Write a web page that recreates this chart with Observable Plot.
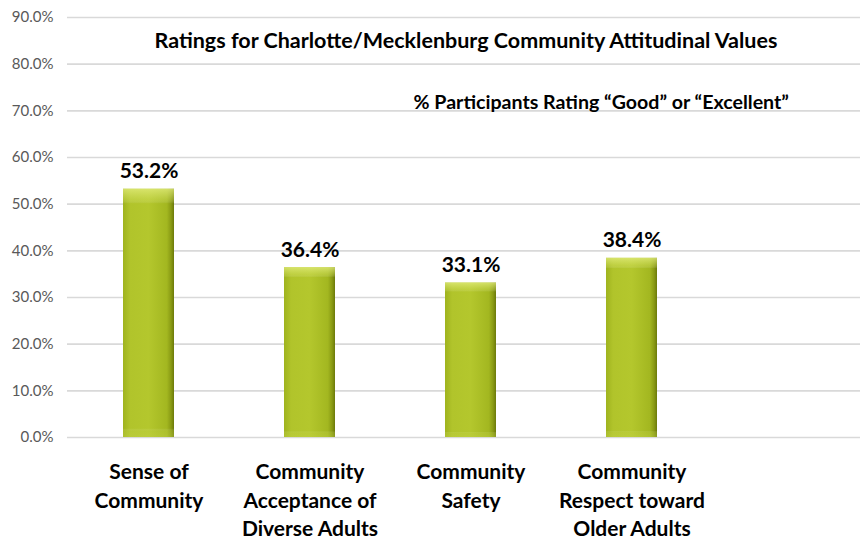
<!DOCTYPE html>
<html>
<head>
<meta charset="utf-8">
<script src="https://cdn.jsdelivr.net/npm/d3@7"></script>
<script src="https://cdn.jsdelivr.net/npm/@observablehq/plot@0.6"></script>
<style>
  html, body { margin: 0; padding: 0; background: #fff; overflow: hidden; }
  #chart { width: 860px; height: 541px; }
</style>
</head>
<body>
<div id="chart"></div>
<script>
const categories = [
  "Sense of\nCommunity",
  "Community\nAcceptance of\nDiverse Adults",
  "Community\nSafety",
  "Community\nRespect toward\nOlder Adults"
];
const values = [53.2, 36.4, 33.1, 38.4];
const yTicks = [0, 10, 20, 30, 40, 50, 60, 70, 80, 90];
const title = "Ratings for Charlotte/Mecklenburg Community Attitudinal Values";
const subtitle = "% Participants Rating \u201CGood\u201D or \u201CExcellent\u201D";

const data = categories.map((c, i) => ({category: c, value: values[i]}));

const svg = Plot.plot({
  width: 860,
  height: 541,
  marginTop: 17,
  marginBottom: 104,
  marginLeft: 67,
  marginRight: 0,
  style: {fontFamily: "Lato, 'Open Sans', sans-serif", background: "#fff", overflow: "visible"},
  x: {
    type: "band",
    domain: categories,
    range: [67, 713],
    paddingInner: 0.684,
    paddingOuter: 0.342,
    label: null
  },
  y: {domain: [0, 90], label: null},
  marks: [
    Plot.ruleY(yTicks, {stroke: "#d9d9d9", strokeWidth: 1.6}),
    Plot.axisY({
      ticks: yTicks,
      tickSize: 0,
      tickPadding: 14,
      tickFormat: d => d.toFixed(1) + "%",
      fontSize: 15,
      fill: "#595959",
      label: null
    }),
    Plot.axisX({
      tickSize: 0,
      tickPadding: 21,
      fontSize: 21,
      fontWeight: "bold",
      fill: "#000",
      lineHeight: 1.37,
      label: null
    }),
    Plot.barY(data, {x: "category", y: "value", fill: "url(#barGrad)"}),
    Plot.barY(data, {x: "category", y: "value", fill: "url(#bevelGrad)"}),
    Plot.text(data, {
      x: "category", y: "value",
      text: d => d.value.toFixed(1) + "%",
      lineAnchor: "bottom", dy: -11,
      fontSize: 21, fontWeight: "bold", fill: "#000"
    }),
    Plot.text([title], {
      frameAnchor: "top-left", dx: 87, dy: 15,
      text: d => d, fontSize: 21.5, fontWeight: "bold", fill: "#000", textAnchor: "start"
    }),
    Plot.text([subtitle], {
      frameAnchor: "top-left", dx: 346, dy: 78,
      text: d => d, fontSize: 19.6, fontWeight: "bold", fill: "#000", textAnchor: "start"
    })
  ]
});

svg.insertAdjacentHTML("afterbegin", `
<defs>
  <linearGradient id="barGrad" x1="0" x2="1" y1="0" y2="0">
    <stop offset="0" stop-color="#9fb31e"/>
    <stop offset="0.14" stop-color="#b1c42b"/>
    <stop offset="0.5" stop-color="#b4c72d"/>
    <stop offset="0.86" stop-color="#a3b720"/>
    <stop offset="0.94" stop-color="#8a9b14"/>
    <stop offset="1" stop-color="#6c7a0a"/>
  </linearGradient>
  <linearGradient id="bevelGrad" x1="0" x2="0" y1="0" y2="1">
    <stop offset="0" stop-color="#e4ee80" stop-opacity="0.75"/>
    <stop offset="0.045" stop-color="#dbe870" stop-opacity="0.3"/>
    <stop offset="0.06" stop-color="#ffffff" stop-opacity="0"/>
    <stop offset="0.965" stop-color="#ffffff" stop-opacity="0"/>
    <stop offset="0.975" stop-color="#c8d850" stop-opacity="0.25"/>
    <stop offset="1" stop-color="#c8d850" stop-opacity="0.35"/>
  </linearGradient>
</defs>`);

document.getElementById("chart").appendChild(svg);
</script>
</body>
</html>
